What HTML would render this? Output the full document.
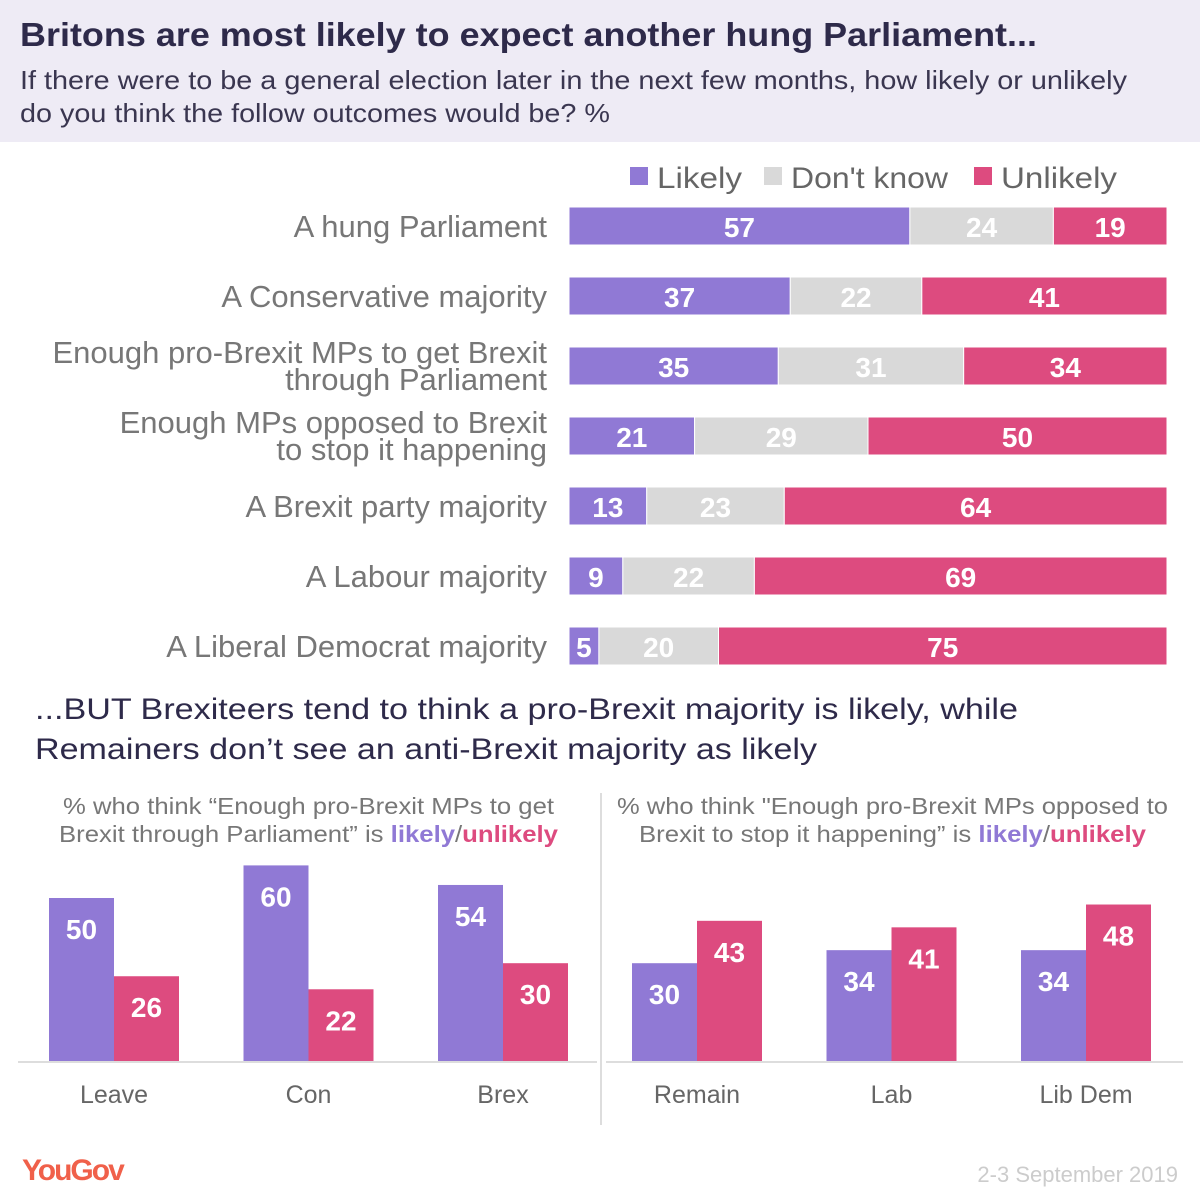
<!DOCTYPE html>
<html><head><meta charset="utf-8"><style>
body{margin:0;width:1200px;height:1200px;background:#fff;overflow:hidden}
svg{display:block}
text{font-family:"Liberation Sans",sans-serif}
</style></head><body>
<svg id="c" width="1200" height="1200" viewBox="0 0 1200 1200">
<rect x="0" y="0" width="1200" height="142" fill="#eeebf5"/>
<text x="20" y="46" font-size="33" font-weight="bold" fill="#2e2a4a" textLength="1017" lengthAdjust="spacingAndGlyphs">Britons are most likely to expect another hung Parliament...</text>
<text x="20" y="89" font-size="26" fill="#3a3650" textLength="1107" lengthAdjust="spacingAndGlyphs">If there were to be a general election later in the next few months, how likely or unlikely</text>
<text x="20" y="122" font-size="26" fill="#3a3650" textLength="590" lengthAdjust="spacingAndGlyphs">do you think the follow outcomes would be? %</text>
<g>
<rect x="630" y="167" width="18" height="18" fill="#9079d5"/>
<text x="657" y="188" font-size="30" fill="#666" textLength="85" lengthAdjust="spacingAndGlyphs">Likely</text>
<rect x="764" y="167" width="18" height="18" fill="#d9d9d9"/>
<text x="791" y="188" font-size="30" fill="#666" textLength="157" lengthAdjust="spacingAndGlyphs">Don't know</text>
<rect x="974" y="167" width="18" height="18" fill="#dd4b7f"/>
<text x="1001" y="188" font-size="30" fill="#666" textLength="116" lengthAdjust="spacingAndGlyphs">Unlikely</text>
</g>
<text x="35" y="719" font-size="30" fill="#2e2a4a" textLength="983" lengthAdjust="spacingAndGlyphs">...BUT Brexiteers tend to think a pro-Brexit majority is likely, while</text>
<text x="35" y="759" font-size="30" fill="#2e2a4a" textLength="782" lengthAdjust="spacingAndGlyphs">Remainers don’t see an anti-Brexit majority as likely</text>
<text x="63" y="814" font-size="23" fill="#777" textLength="491" lengthAdjust="spacingAndGlyphs">% who think “Enough pro-Brexit MPs to get</text>
<text x="59" y="842" font-size="23" fill="#777" textLength="499" lengthAdjust="spacingAndGlyphs">Brexit through Parliament” is <tspan fill="#9079d5" font-weight="bold">likely</tspan>/<tspan fill="#dd4b7f" font-weight="bold">unlikely</tspan></text>
<text x="617" y="814" font-size="23" fill="#777" textLength="551" lengthAdjust="spacingAndGlyphs">% who think "Enough pro-Brexit MPs opposed to</text>
<text x="639" y="842" font-size="23" fill="#777" textLength="507" lengthAdjust="spacingAndGlyphs">Brexit to stop it happening” is <tspan fill="#9079d5" font-weight="bold">likely</tspan>/<tspan fill="#dd4b7f" font-weight="bold">unlikely</tspan></text>
<line x1="601" y1="793" x2="601" y2="1125" stroke="#ddd" stroke-width="2"/>
<line x1="18" y1="1062" x2="597" y2="1062" stroke="#ddd" stroke-width="2"/>
<line x1="606" y1="1062" x2="1183" y2="1062" stroke="#ddd" stroke-width="2"/>
<text x="22" y="1180" font-size="30" font-weight="bold" fill="#f0604a" letter-spacing="-2">YouGov</text>
<text x="1178" y="1182" font-size="22" fill="#ccc" text-anchor="end">2-3 September 2019</text>
<g id="topg"></g><g id="bl"></g><g id="br"></g>
</svg>
<script>
const outcomes=["A hung Parliament","A Conservative majority","Enough pro-Brexit MPs to get Brexit|through Parliament","Enough MPs opposed to Brexit|to stop it happening","A Brexit party majority","A Labour majority","A Liberal Democrat majority"];
const likely=[57,37,35,21,13,9,5];
const dontKnow=[24,22,31,29,23,22,20];
const unlikely=[19,41,34,50,64,69,75];
const leftCats=["Leave","Con","Brex"];
const leftLikely=[50,60,54];
const leftUnlikely=[26,22,30];
const rightCats=["Remain","Lab","Lib Dem"];
const rightLikely=[30,34,34];
const rightUnlikely=[43,41,48];

const NS="http://www.w3.org/2000/svg";
function mk(p,tag,a){const e=document.createElementNS(NS,tag);for(const k in a)e.setAttribute(k,a[k]);p.appendChild(e);return e;}
const topG=document.getElementById('topg');
const X0=569,W=598;
const xs=v=>v/100*W;
const yRow=i=>226+i*70;
const cols=["#9079d5","#d9d9d9","#dd4b7f"];
const segNames=["likely","dontknow","unlikely"];
outcomes.forEach((lab,i)=>{
  const vals=[likely[i],dontKnow[i],unlikely[i]];
  const tot=vals[0]+vals[1]+vals[2];
  let x=X0;
  vals.forEach((v,j)=>{
    const w=xs(v/tot*100);
    const r=mk(topG,'rect',{x:x,y:yRow(i)-19,width:w,height:38,fill:cols[j],stroke:'#fff','stroke-width':1});
    
    
    const t=mk(topG,'text',{x:x+w/2,y:yRow(i)+11,'font-size':28,'font-weight':'bold',fill:'#fff','text-anchor':'middle'});
    t.textContent=v;
    
    
    x+=w;
  });
  const lines=lab.split('|');
  lines.forEach((ln,k)=>{
    const y=lines.length===1?yRow(i)+11:yRow(i)+(k===0?-3:24);
    const t=mk(topG,'text',{x:547,y:y,'font-size':31,fill:'#777','text-anchor':'end'});
    t.textContent=ln;
    
    
  });
});
const BASE=1061,SC=3.26,BW=65;
function cluster(g,cats,l,u,x0,side){
  cats.forEach((c,i)=>{
    const gx=x0+i*194.5;
    [[l[i],cols[0],'likely'],[u[i],cols[2],'unlikely']].forEach((d,j)=>{
      const h=d[0]*SC,x=gx+j*BW;
      const r=mk(g,'rect',{x:x,y:BASE-h,width:BW,height:h,fill:d[1]});
      
      
      const t=mk(g,'text',{x:x+BW/2,y:BASE-h+41,'font-size':28,'font-weight':'bold',fill:'#fff','text-anchor':'middle'});
      t.textContent=d[0];
      
      
    });
    const t=mk(g,'text',{x:gx+BW,y:1103,'font-size':25,fill:'#666','text-anchor':'middle'});
    t.textContent=c;
    
    
  });
}
cluster(document.getElementById('bl'),leftCats,leftLikely,leftUnlikely,49,'left');
cluster(document.getElementById('br'),rightCats,rightLikely,rightUnlikely,632,'right');
</script>
</body></html>
